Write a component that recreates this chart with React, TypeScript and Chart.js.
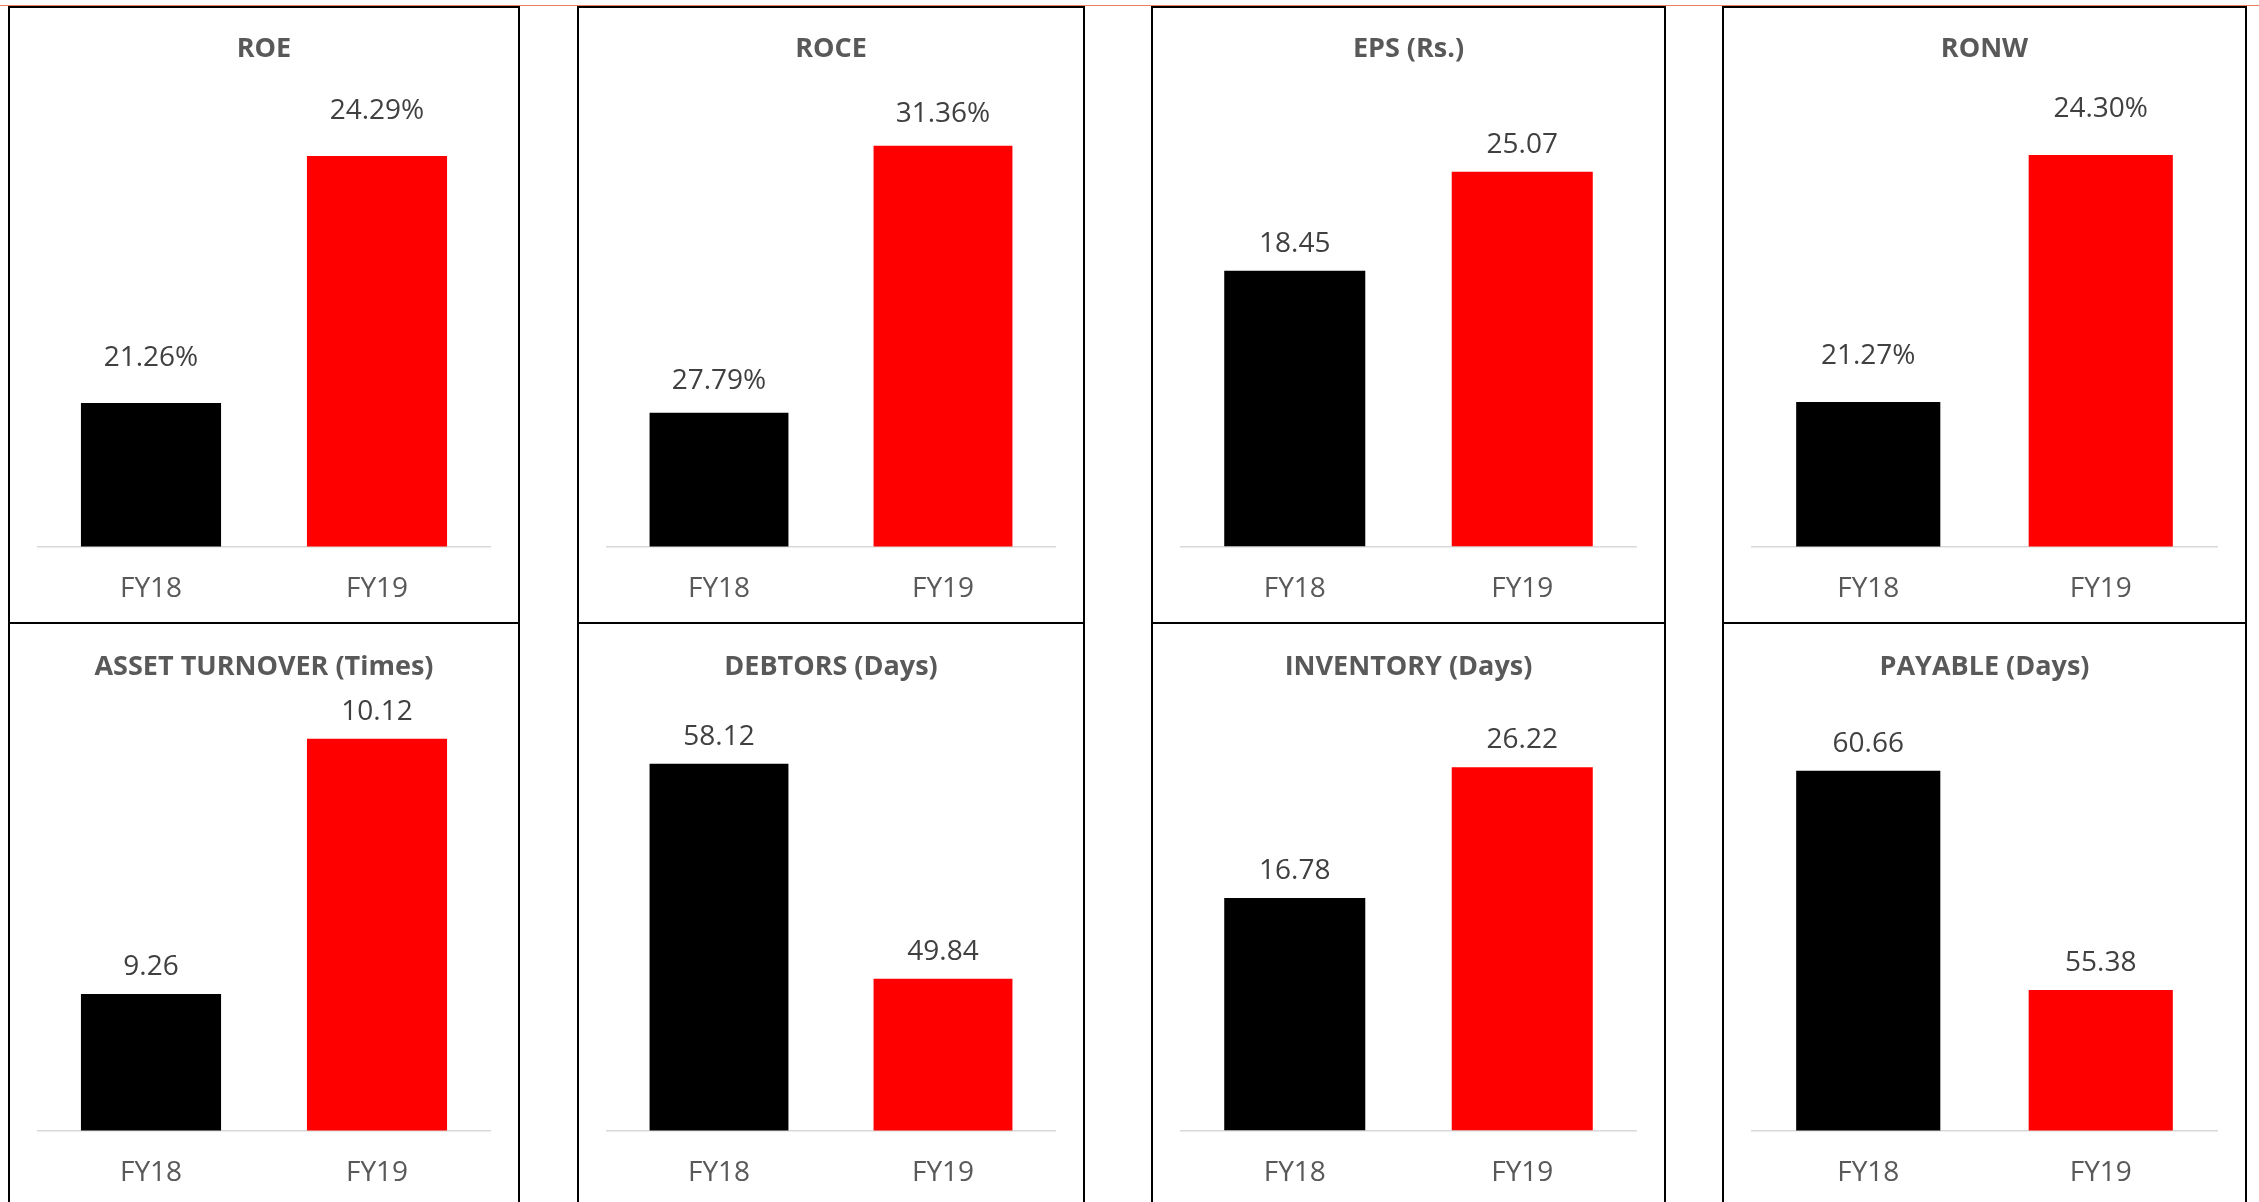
import React, { useEffect, useRef } from 'react';
import { Chart, registerables } from 'chart.js';

Chart.register(...registerables);

// ---------- data ----------
const categories = ['FY18', 'FY19'];
const chartTitles = [
  'ROE',
  'ROCE',
  'EPS (Rs.)',
  'RONW',
  'ASSET TURNOVER (Times)',
  'DEBTORS (Days)',
  'INVENTORY (Days)',
  'PAYABLE (Days)',
];
const fy18Values = [21.26, 27.79, 18.45, 21.27, 9.26, 58.12, 16.78, 60.66];
const fy19Values = [24.29, 31.36, 25.07, 24.3, 10.12, 49.84, 26.22, 55.38];
const valueSuffixes = ['%', '%', '', '%', '', '', '', ''];
const axisMin = [19.5, 26, 0, 19.5, 8.8, 44, 0, 52];
const axisMax = [25, 32, 30, 25, 10.2, 60, 30, 62];

// ---------- layout / style ----------
const barColors = ['#000000', '#FF0000'];
const PANEL_COLS: [number, number][] = [
  [8, 520],
  [577, 1085],
  [1151, 1666],
  [1722, 2247],
];
const ROWS = [
  { top: 6, bottom: 624, titleMid: 49, plotTop: 98, baseline: 546 },
  { top: 622, bottom: 1240, titleMid: 667, plotTop: 715, baseline: 1130 },
];
const LABEL_GAP = [45, 32, 27, 46, 27, 27, 27, 27];
const FONT = "'Open Sans', sans-serif";
const TITLE_SIZE = 27;
const TICK_SIZE = 28;
const VALUE_SIZE = 28;
const LH = 1.2;
const TICK_PAD = 26;
const SIDE_PAD = 30;

const valueLabelPlugin = {
  id: 'valueLabels',
  afterDatasetsDraw(chart: any, _args: any, opts: any) {
    const ctx = chart.ctx;
    const meta = chart.getDatasetMeta(0);
    const ds = chart.data.datasets[0];
    ctx.save();
    ctx.font = `${VALUE_SIZE}px ${FONT}`;
    ctx.fillStyle = '#404040';
    ctx.textAlign = 'center';
    ctx.textBaseline = 'middle';
    meta.data.forEach((bar: any, i: number) => {
      const v = ds.data[i] as number;
      ctx.fillText(v.toFixed(2) + opts.suffix, bar.x, bar.y - opts.gap);
    });
    ctx.restore();
  },
};

function MiniChart({ index }: { index: number }) {
  const ref = useRef<HTMLCanvasElement | null>(null);
  const r = Math.floor(index / 4);
  const c = index % 4;
  const row = ROWS[r];
  const [x0, x1] = PANEL_COLS[c];
  const width = x1 - x0;
  const xAxisH = TICK_SIZE * LH + 2 * TICK_PAD;
  const height = Math.round(row.baseline - row.top + xAxisH);
  const titleLineH = TITLE_SIZE * LH;
  const padTop = row.titleMid - row.top - titleLineH / 2;
  const padBottom = row.plotTop - row.top - padTop - titleLineH;

  useEffect(() => {
    if (!ref.current) return;
    const chart = new Chart(ref.current, {
      type: 'bar',
      data: {
        labels: categories,
        datasets: [
          {
            data: [fy18Values[index], fy19Values[index]],
            backgroundColor: barColors,
            borderWidth: 0,
            barPercentage: 0.62,
            categoryPercentage: 1.0,
          },
        ],
      },
      options: {
        responsive: false,
        animation: false,
        devicePixelRatio: 1,
        layout: { padding: { left: SIDE_PAD, right: SIDE_PAD, top: 0, bottom: 0 } },
        plugins: {
          legend: { display: false },
          tooltip: { enabled: false },
          title: {
            display: true,
            text: chartTitles[index],
            color: '#595959',
            font: { family: FONT, size: TITLE_SIZE, weight: 'bold', lineHeight: LH },
            padding: { top: padTop, bottom: padBottom },
          },
          valueLabels: { suffix: valueSuffixes[index], gap: LABEL_GAP[index] },
        } as any,
        scales: {
          x: {
            grid: { display: false, drawTicks: false },
            border: { display: true, color: '#D9D9D9', width: 1.5 },
            ticks: {
              color: '#595959',
              padding: TICK_PAD,
              font: { family: FONT, size: TICK_SIZE, lineHeight: LH },
            },
          },
          y: {
            display: false,
            min: axisMin[index],
            max: axisMax[index],
          },
        },
      },
      plugins: [valueLabelPlugin as any],
    });
    return () => chart.destroy();
  }, [index]);

  return (
    <canvas
      ref={ref}
      width={width}
      height={height}
      style={{ position: 'absolute', left: x0, top: row.top, width, height }}
    />
  );
}

export default function App() {
  const indices = chartTitles.map((_, i) => i);
  return (
    <div
      style={{
        position: 'absolute',
        left: 0,
        top: 0,
        width: 2259,
        height: 1202,
        overflow: 'hidden',
        background: '#FFFFFF',
      }}
    >
      <div
        style={{
          position: 'absolute',
          left: 0,
          top: 5,
          width: 2259,
          height: 1,
          background: '#EE7D5C',
        }}
      />
      {indices.map((i) => {
        const row = ROWS[Math.floor(i / 4)];
        const [x0, x1] = PANEL_COLS[i % 4];
        return (
          <div
            key={'p' + i}
            style={{
              position: 'absolute',
              left: x0,
              top: row.top,
              width: x1 - x0,
              height: row.bottom - row.top,
              border: '2px solid #000000',
              boxSizing: 'border-box',
              background: '#FFFFFF',
            }}
          />
        );
      })}
      {indices.map((i) => (
        <MiniChart key={'c' + i} index={i} />
      ))}
    </div>
  );
}
